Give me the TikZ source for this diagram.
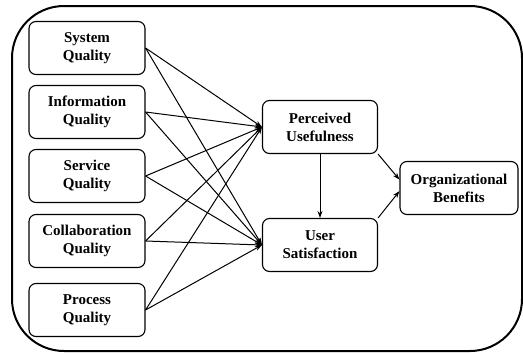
\documentclass[tikz,border=0pt]{standalone}
\usepackage{fontspec}
\setmainfont{Liberation Serif}
\usetikzlibrary{arrows.meta}

\begin{document}
\begin{tikzpicture}[x=1pt, y=-1pt,
  construct/.style={draw, line width=1.1pt, rounded corners=7pt, align=center,
    minimum width=116pt, minimum height=53pt, inner sep=1pt,
    font=\fontsize{15}{18}\selectfont\bfseries},
  path/.style={line width=1pt, -{Stealth[length=7pt, width=5pt]}}]
  \useasboundingbox (0,0) rectangle (523,354);
  \draw[line width=2pt, rounded corners=52pt] (12,6) rectangle (522,351);

  % quality dimensions
  \node[construct] (sq) at (87,48) {System\\Quality};
  \node[construct] (iq) at (87,112) {Information\\Quality};
  \node[construct] (svq) at (87,176) {Service\\Quality};
  \node[construct] (cq) at (87,241) {Collaboration\\Quality};
  \node[construct] (pq) at (87,310) {Process\\Quality};

  % mediators and outcome
  \node[construct, minimum width=115pt] (pu) at (320,127) {Perceived\\Usefulness};
  \node[construct, minimum width=115pt] (us) at (320,245) {User\\Satisfaction};
  \node[construct, minimum width=118pt] (ob) at (459,188) {Organizational\\Benefits};

  \foreach \src in {sq,iq,svq,cq,pq} {
    \draw[path] (\src.east) -- (pu.west);
    \draw[path] (\src.east) -- (us.west);
  }
  \draw[path] (pu.south) -- (us.north);
  \draw[path] (pu.south east) -- (ob.172);
  \draw[path] (us.north east) -- (ob.183);
\end{tikzpicture}
\end{document}
